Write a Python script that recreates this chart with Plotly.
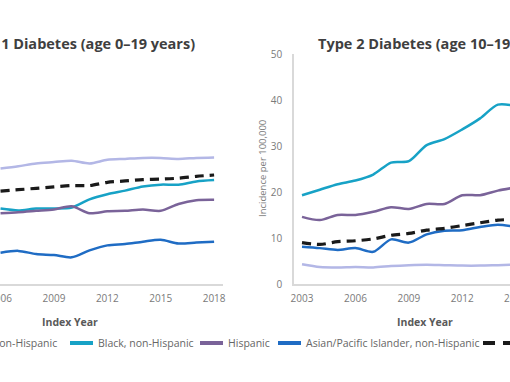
import plotly.graph_objects as go

W, H = 510, 382

t1_years = [2006, 2007, 2008, 2009, 2010, 2011, 2012, 2013, 2014, 2015, 2016, 2017, 2018]
t1_white = [25.1, 25.6, 26.2, 26.5, 26.8, 26.2, 27.0, 27.2, 27.4, 27.4, 27.2, 27.4, 27.5]
t1_black = [16.4, 16.0, 16.4, 16.4, 16.6, 18.4, 19.5, 20.3, 21.2, 21.6, 21.6, 22.3, 22.6]
t1_hisp = [15.4, 15.6, 15.9, 16.2, 16.9, 15.4, 15.8, 15.9, 16.2, 15.9, 17.4, 18.2, 18.3]
t1_asian = [6.8, 7.2, 6.5, 6.3, 5.8, 7.3, 8.4, 8.7, 9.2, 9.6, 8.8, 9.0, 9.2]
t1_overall = [20.2, 20.5, 20.8, 21.1, 21.4, 21.4, 22.1, 22.4, 22.7, 22.8, 23.0, 23.4, 23.7]

t2_years = [2003, 2004, 2005, 2006, 2007, 2008, 2009, 2010, 2011, 2012, 2013, 2014, 2015]
t2_white = [4.3, 3.7, 3.6, 3.7, 3.6, 3.9, 4.1, 4.2, 4.1, 4.0, 4.0, 4.1, 4.2]
t2_black = [19.3, 20.5, 21.7, 22.5, 23.8, 26.4, 26.7, 30.2, 31.5, 33.6, 36.0, 39.0, 38.7]
t2_hisp = [14.6, 13.9, 15.0, 15.0, 15.7, 16.7, 16.3, 17.4, 17.4, 19.3, 19.3, 20.3, 21.0]
t2_asian = [8.1, 7.8, 7.4, 7.8, 7.0, 9.7, 9.0, 10.8, 11.6, 11.7, 12.4, 12.9, 12.4]
t2_overall = [9.0, 8.6, 9.2, 9.4, 9.8, 10.6, 11.0, 11.7, 12.1, 12.7, 13.3, 13.9, 14.0]

x_ticks = [2003, 2006, 2009, 2012, 2015, 2018]
y_ticks = [0, 10, 20, 30, 40, 50]

series_names = ["White, non-Hispanic", "Black, non-Hispanic", "Hispanic",
                "Asian/Pacific Islander, non-Hispanic", "Overall"]
colors = ["#b3b7e6", "#17a2c6", "#7a6399", "#1f6cc4", "#1a1a1a"]

# ---------------- helpers for pixel-based layout ----------------
def px(x):
    return x / W

def py(y):
    return 1 - y / H

FONT = "Open Sans"
GRAY = "#7a7a7a"
AXIS = "#d9d9d9"

fig = go.Figure()

t1 = [t1_white, t1_black, t1_hisp, t1_asian, t1_overall]
t2 = [t2_white, t2_black, t2_hisp, t2_asian, t2_overall]

for i, name in enumerate(series_names):
    dash = "9px,6px" if name == "Overall" else "solid"
    width = 3.2 if name == "Overall" else 2.5
    fig.add_trace(go.Scatter(x=t1_years, y=t1[i], mode="lines", name=name,
                             line=dict(color=colors[i], width=width, dash=dash,
                                       shape="spline", smoothing=0.8),
                             xaxis="x", yaxis="y", showlegend=False, hoverinfo="skip"))
    fig.add_trace(go.Scatter(x=t2_years, y=t2[i], mode="lines", name=name,
                             line=dict(color=colors[i], width=width, dash=dash,
                                       shape="spline", smoothing=0.8),
                             xaxis="x2", yaxis="y2", showlegend=False, hoverinfo="skip"))

y_dom = [py(284), py(54)]

common_x = dict(tickvals=x_ticks, showgrid=False, zeroline=False, showline=True,
                linecolor=AXIS, linewidth=1.5, ticks="",
                tickfont=dict(family=FONT, size=10, color=GRAY), automargin=False,
                ticklabelstandoff=4, ticklabeloverflow="allow")

fig.update_layout(
    width=W, height=H,
    margin=dict(l=0, r=0, t=0, b=0, autoexpand=False),
    paper_bgcolor="white", plot_bgcolor="white",
    xaxis=dict(domain=[0, px(223)], range=[2005.97, 2018.5], **common_x),
    yaxis=dict(domain=y_dom, range=[0, 50], visible=False),
    xaxis2=dict(domain=[px(294), 1], range=[2002.55, 2014.68], anchor="y2", **common_x),
    yaxis2=dict(domain=y_dom, range=[0, 50], anchor="x2", tickvals=y_ticks,
                showgrid=False, zeroline=False, showline=True, linecolor=AXIS,
                linewidth=1.5, ticks="", ticklabelstandoff=8, automargin=False,
                tickfont=dict(family=FONT, size=10, color=GRAY)),
    showlegend=False,
)

ann = []
# titles
TFONT = dict(family=FONT, size=14.5, color="#3f3f3f")
ann.append(dict(text="<b>Type 1 Diabetes (age 0\u201319 years)</b>", x=px(197), y=py(43),
                xanchor="right", yanchor="middle", font=TFONT))
ann.append(dict(text="<b>Type 2 Diabetes (age 10\u201319 years)</b>", x=px(316), y=py(43),
                xanchor="left", yanchor="middle", font=TFONT))
# x-axis titles
for cx in (70, 425):
    ann.append(dict(text="<b>Index Year</b>", x=px(cx), y=py(322), xanchor="center",
                    yanchor="middle", font=dict(family=FONT, size=10.5, color="#595959")))
# 2015 tick label of the right panel, which sits just past the crop edge
ann.append(dict(text="2015", x=px(515), y=py(298), xanchor="center", yanchor="middle",
                font=dict(family=FONT, size=10, color=GRAY)))
# y-axis title
ann.append(dict(text="Incidence per 100,000", x=px(262), y=py(169), textangle=-90,
                xanchor="center", yanchor="middle", font=dict(family=FONT, size=9.5, color=GRAY)))

# legend (manual, partially outside the crop)
leg_y = 343
LFONT = dict(family=FONT, size=10.5, color="#666666")
shapes = []
# first entry: only the end of its label is inside the crop
ann.append(dict(text=series_names[0], x=px(59), y=py(leg_y), xanchor="right", yanchor="middle",
                font=LFONT))
leg_items = [(70, 1), (200, 2), (278, 3), (483, 4)]
for x0, i in leg_items:
    if series_names[i] == "Overall":
        shapes.append(dict(type="line", xref="paper", yref="paper", x0=px(x0), x1=px(x0 + 30),
                           y0=py(leg_y), y1=py(leg_y),
                           line=dict(color=colors[i], width=4, dash="12px,8px")))
    else:
        shapes.append(dict(type="line", xref="paper", yref="paper", x0=px(x0), x1=px(x0 + 23),
                           y0=py(leg_y), y1=py(leg_y), line=dict(color=colors[i], width=4)))
    ann.append(dict(text=series_names[i], x=px(x0 + 26), y=py(leg_y), xanchor="left",
                    yanchor="middle", font=LFONT))

for a in ann:
    a.update(xref="paper", yref="paper", showarrow=False)
fig.update_layout(annotations=ann, shapes=shapes)

fig.write_html("out.html", config={"displayModeBar": False},
               post_script="document.body.style.margin='0';")
